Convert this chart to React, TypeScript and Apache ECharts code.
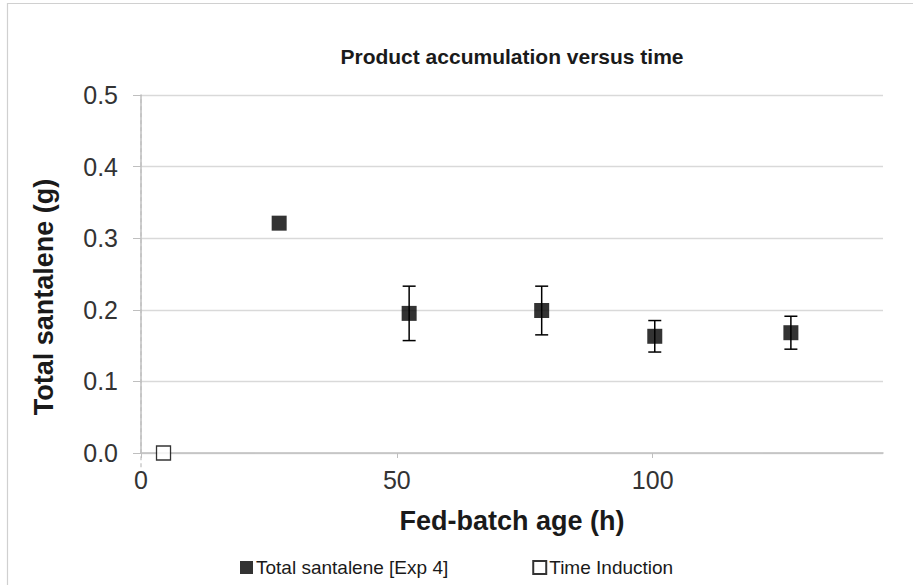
import React, { useEffect, useRef } from "react";
import * as echarts from "echarts";

const titleText = "Product accumulation versus time";
const xAxisName = "Fed-batch age (h)";
const yAxisName = "Total santalene (g)";
const seriesNames = ["Total santalene [Exp 4]", "Time Induction"];

const hours = [27, 52.4, 78.3, 100.4, 127];
const santalene = [0.321, 0.195, 0.199, 0.163, 0.168];
const santaleneErr = [0, 0.038, 0.034, 0.022, 0.023];

const inductionHours = [4.4];
const inductionValues = [0];

const refLineX = [0, 0];
const refLineY = [-0.02, 0.5];

export default function App() {
  const ref = useRef<HTMLDivElement>(null);
  useEffect(() => {
    if (!ref.current) return;
    const chart = echarts.init(ref.current, null, { renderer: "svg" });
    const font = "Arial, 'Liberation Sans', sans-serif";
    const mainData = hours.map((h, i) => [h, santalene[i]]);
    const errData = hours.map((h, i) => [h, santalene[i] - santaleneErr[i], santalene[i] + santaleneErr[i]]);
    const indData = inductionHours.map((h, i) => [h, inductionValues[i]]);
    const refData = refLineX.map((x, i) => [x, refLineY[i]]);
    chart.setOption({
      animation: false,
      backgroundColor: "#ffffff",
      title: {
        text: titleText,
        left: 512,
        textAlign: "center",
        top: 46,
        padding: 0,
        textStyle: { fontFamily: font, fontSize: 21, fontWeight: "bold", color: "#1a1a1a" },
      },
      grid: { left: 141, right: 30, top: 95, bottom: 132 },
      xAxis: {
        type: "value",
        min: 0,
        max: 145,
        interval: 50,
        axisLine: { show: true, onZero: false, lineStyle: { color: "#bfbfbf", width: 1.5 } },
        axisTick: { show: true, length: 5, lineStyle: { color: "#bfbfbf" } },
        splitLine: { show: false },
        axisLabel: { showMaxLabel: false, fontFamily: font, fontSize: 25, color: "#333333", margin: 14 },
        name: xAxisName,
        nameLocation: "middle",
        nameGap: 54,
        nameTextStyle: { fontFamily: font, fontSize: 27, fontWeight: "bold", color: "#1a1a1a" },
      },
      yAxis: {
        type: "value",
        min: 0,
        max: 0.5,
        interval: 0.1,
        axisLine: { show: true, lineStyle: { color: "#bfbfbf", width: 1.5 } },
        axisTick: { show: true, length: 8, lineStyle: { color: "#bfbfbf" } },
        splitLine: { show: true, lineStyle: { color: "#d9d9d9", width: 1.3 } },
        axisLabel: {
          fontFamily: font,
          fontSize: 25,
          color: "#333333",
          margin: 23,
          formatter: (v: number) => v.toFixed(1),
        },
      },
      legend: {
        left: 240,
        top: 558,
        padding: 0,
        itemWidth: 13,
        itemHeight: 13,
        itemGap: 84,
        icon: "rect",
        textStyle: { fontFamily: font, fontSize: 19, color: "#1a1a1a", padding: [0, 0, 0, -2] },
        data: seriesNames,
      },
      graphic: [
        {
          type: "rect",
          shape: { x: 7.5, y: 3.5, width: 940, height: 640 },
          style: { fill: "none", stroke: "#d0d0d0", lineWidth: 1.2 },
          silent: true,
        },
        {
          type: "text",
          x: 44,
          y: 297,
          rotation: Math.PI / 2,
          style: {
            text: yAxisName,
            fontFamily: font,
            fontSize: 27,
            fontWeight: "bold",
            fill: "#1a1a1a",
            align: "center",
            verticalAlign: "middle",
          },
        },
      ],
      series: [
        {
          type: "line",
          name: "ref",
          data: refData,
          symbol: "none",
          clip: false,
          lineStyle: { color: "#bfbfbf", width: 1.2, type: [4, 3] },
          z: 1,
          silent: true,
        },
        {
          type: "custom",
          name: "err",
          data: errData,
          z: 3,
          renderItem: (params: any, api: any) => {
            const x = api.value(0);
            const lo = api.value(1);
            const hi = api.value(2);
            if (hi - lo < 1e-6) return null;
            const pHi = api.coord([x, hi]);
            const pLo = api.coord([x, lo]);
            const hw = 6.5;
            const st = { stroke: "#000000", lineWidth: 1.5 };
            return {
              type: "group",
              children: [
                { type: "line", shape: { x1: pHi[0], y1: pHi[1], x2: pLo[0], y2: pLo[1] }, style: st },
                { type: "line", shape: { x1: pHi[0] - hw, y1: pHi[1], x2: pHi[0] + hw, y2: pHi[1] }, style: st },
                { type: "line", shape: { x1: pLo[0] - hw, y1: pLo[1], x2: pLo[0] + hw, y2: pLo[1] }, style: st },
              ],
            };
          },
        },
        {
          type: "scatter",
          name: seriesNames[0],
          data: mainData,
          symbol: "rect",
          symbolSize: 15,
          itemStyle: { color: "#000000" },
          z: 5,
        },
        {
          type: "scatter",
          name: seriesNames[1],
          data: indData,
          symbol: "rect",
          symbolSize: 14,
          clip: false,
          itemStyle: { color: "#ffffff", borderColor: "#000000", borderWidth: 1.3 },
          z: 5,
        },
      ],
    });
    return () => chart.dispose();
  }, []);
  return <div ref={ref} style={{ position: "fixed", left: 0, top: 0, width: 913, height: 585 }} />;
}
